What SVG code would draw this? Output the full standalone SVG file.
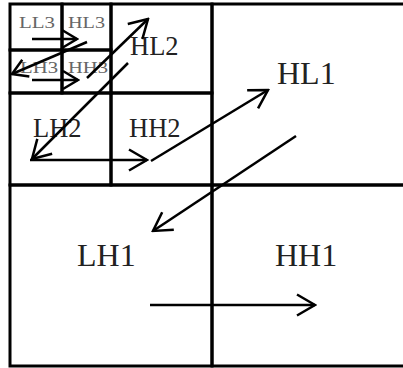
<svg xmlns="http://www.w3.org/2000/svg" width="403" height="368" viewBox="0 0 403 368">
<style>
.cell{fill:none;stroke:#000;stroke-width:3}
.big{font-family:"Liberation Serif","Times New Roman",serif;font-size:32px;fill:#222}
.mid{font-family:"Liberation Serif","Times New Roman",serif;font-size:26.5px;fill:#222}
.sm{font-family:"Liberation Serif","Times New Roman",serif;font-size:17px;fill:#666}
.arr{fill:none;stroke:#000;stroke-width:2.5;marker-end:url(#ah)}
.arrs{fill:none;stroke:#000;stroke-width:2.5;marker-end:url(#ahs)}
</style>
<defs>
<marker id="ah" markerUnits="userSpaceOnUse" viewBox="-22 -13 24 26" refX="0" refY="0" markerWidth="24" markerHeight="26" orient="auto">
<path d="M-18,-10.5 L0,0 L-18,10.5" fill="none" stroke="#000" stroke-width="2.5"/>
</marker>
<marker id="ahs" markerUnits="userSpaceOnUse" viewBox="-22 -13 24 26" refX="0" refY="0" markerWidth="24" markerHeight="26" orient="auto">
<path d="M-15,-9 L0,0 L-15,9" fill="none" stroke="#000" stroke-width="2.5"/>
</marker>
</defs>
<rect width="403" height="368" fill="#fff"/>
<g id="LL3"><rect class="cell" x="10" y="4" width="52" height="46"/><text class="sm" x="19" y="28" textLength="36" lengthAdjust="spacingAndGlyphs">LL3</text></g>
<g id="HL3"><rect class="cell" x="62" y="4" width="49" height="46"/><text class="sm" x="68" y="28" textLength="37" lengthAdjust="spacingAndGlyphs">HL3</text></g>
<g id="LH3"><rect class="cell" x="10" y="50" width="52" height="43"/><text class="sm" x="20" y="73" textLength="38" lengthAdjust="spacingAndGlyphs">LH3</text></g>
<g id="HH3"><rect class="cell" x="62" y="50" width="49" height="43"/><text class="sm" x="68" y="73" textLength="40" lengthAdjust="spacingAndGlyphs">HH3</text></g>
<g id="HL2"><rect class="cell" x="111" y="4" width="101" height="89"/><text class="mid" x="130" y="55">HL2</text></g>
<g id="LH2"><rect class="cell" x="10" y="93" width="101" height="92"/><text class="mid" x="33" y="137">LH2</text></g>
<g id="HH2"><rect class="cell" x="111" y="93" width="101" height="92"/><text class="mid" x="129" y="137">HH2</text></g>
<g id="HL1"><rect class="cell" x="212" y="4" width="200" height="181"/><text class="big" x="277" y="84">HL1</text></g>
<g id="LH1"><rect class="cell" x="10" y="185" width="202" height="181"/><text class="big" x="77" y="266">LH1</text></g>
<g id="HH1"><rect class="cell" x="212" y="185" width="200" height="181"/><text class="big" x="275" y="266">HH1</text></g>
<g id="connectors">
<line class="arrs" x1="32" y1="39" x2="77" y2="39"/>
<line class="arrs" x1="87" y1="42" x2="12" y2="74"/>
<line class="arrs" x1="32" y1="80" x2="78" y2="80"/>
<line class="arr" x1="87" y1="78" x2="148" y2="19"/>
<line class="arr" x1="128" y1="63" x2="32" y2="159"/>
<line class="arr" x1="30" y1="160" x2="147" y2="160"/>
<line class="arr" x1="151" y1="161" x2="268" y2="90"/>
<line class="arr" x1="296" y1="136" x2="153" y2="231"/>
<line class="arr" x1="150" y1="305" x2="315" y2="305"/>
</g>
</svg>
